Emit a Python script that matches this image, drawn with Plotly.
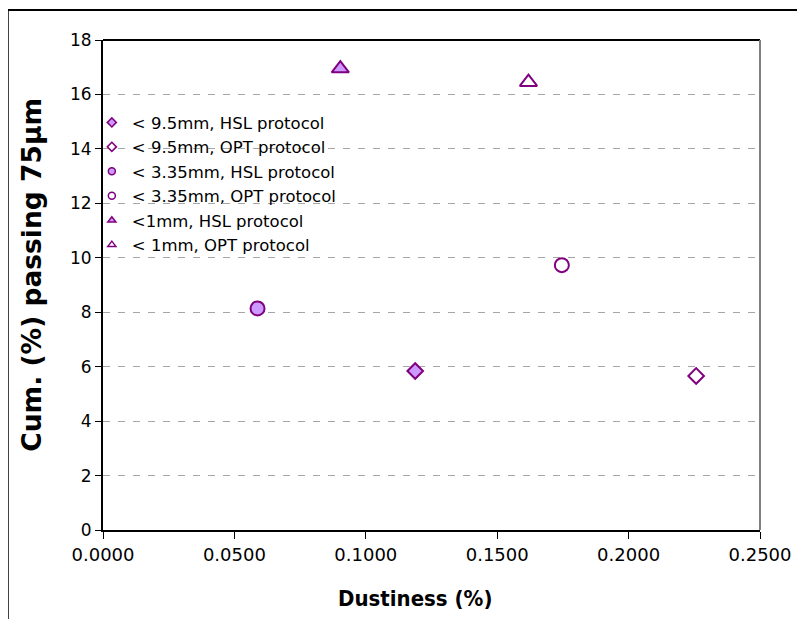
import plotly.graph_objects as go

# values
series_names = [
    "< 9.5mm, HSL protocol",
    "< 9.5mm, OPT protocol",
    "< 3.35mm, HSL protocol",
    "< 3.35mm, OPT protocol",
    "<1mm, HSL protocol",
    "< 1mm, OPT protocol",
]
dustiness = [0.1188, 0.2257, 0.0588, 0.1746, 0.0903, 0.1619]
passing_75um = [5.84, 5.66, 8.14, 9.73, 16.95, 16.45]

x_ticks = [0.0, 0.05, 0.10, 0.15, 0.20, 0.25]
y_ticks = [0, 2, 4, 6, 8, 10, 12, 14, 16, 18]

x_title = "Dustiness (%)"
y_title = "Cum. (%) passing 75µm"

# marker styles (symbol, fill, size)
styles = [
    ("diamond", "#CC99FF", 12),
    ("diamond", "white", 12),
    ("circle", "#CC99FF", 14),
    ("circle", "white", 14),
    ("triangle-up", "#CC99FF", 15),
    ("triangle-up", "white", 15),
]
PURPLE = "#800080"
FONT = "DejaVu Sans, Verdana, sans-serif"
NARROW = "DejaVu Sans Condensed, DejaVu Sans, sans-serif"

fig = go.Figure()

for name, x, y, (sym, fill, size) in zip(series_names, dustiness, passing_75um, styles):
    # the data point itself
    fig.add_trace(go.Scatter(
        x=[x], y=[y], mode="markers", name=name, legendgroup=name,
        showlegend=False,
        marker=dict(symbol=sym, color=fill, size=size,
                    line=dict(color=PURPLE, width=2)),
    ))
    # small legend symbol, like the Excel legend
    fig.add_trace(go.Scatter(
        x=[None], y=[None], mode="markers", name=name, legendgroup=name,
        marker=dict(symbol=sym, color=fill, size=7,
                    line=dict(color=PURPLE, width=1.5)),
    ))

# top (black) and right (grey) edges of the plot area, plus the outer chart frame
fig.add_shape(type="line", xref="paper", yref="paper", x0=0, x1=1, y0=1, y1=1,
              line=dict(color="black", width=2))
fig.add_shape(type="line", xref="paper", yref="paper", x0=1, x1=1, y0=0, y1=1,
              line=dict(color="#808080", width=2))
fig.add_shape(type="rect", xref="paper", yref="paper", x0=-0.145, x1=1.2, y0=-0.3, y1=1.061,
              line=dict(color="black", width=2), layer="below")

# axis titles placed as in the Excel chart (not centred on the plot area)
fig.add_annotation(text=f"<b>{x_title}</b>", xref="paper", yref="paper",
                   x=0.475, y=-0.139, xanchor="center", yanchor="middle",
                   showarrow=False, font=dict(family=NARROW, size=22))
fig.add_annotation(text=f"<b>{y_title}</b>", xref="paper", yref="paper",
                   x=-0.108, y=0.521, xanchor="center", yanchor="middle",
                   showarrow=False, textangle=-90, font=dict(size=26.5))

fig.update_layout(
    width=805, height=619,
    margin=dict(l=95, r=53, t=32, b=97),
    paper_bgcolor="white", plot_bgcolor="white",
    font=dict(family=FONT, size=17, color="black"),
    showlegend=True,
    legend=dict(x=-0.017, y=0.867, xanchor="left", yanchor="top",
                bgcolor="rgba(0,0,0,0)", font=dict(size=16.5),
                itemwidth=30, tracegroupgap=0),
    xaxis=dict(
        range=[0, 0.25], tickvals=x_ticks, tickformat=".4f",
        tickfont=dict(size=18),
        showgrid=False, zeroline=False,
        showline=True, linecolor="black", linewidth=2,
        ticks="outside", ticklen=7, tickcolor="black",
    ),
    yaxis=dict(
        range=[0, 18], tickvals=y_ticks,
        showgrid=True, gridcolor="#a6a6a6", griddash="7px,8px", gridwidth=1,
        zeroline=False,
        showline=True, linecolor="black", linewidth=2,
        ticks="outside", ticklen=6, tickcolor="black",
    ),
)

fig.write_html("out.html")
